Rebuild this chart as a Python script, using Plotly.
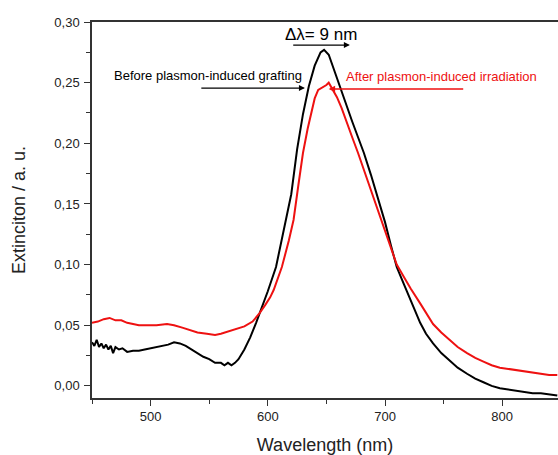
import plotly.graph_objects as go

black_wl = [450, 452, 454, 456, 458, 460, 462, 464, 466, 468, 470, 473, 476, 480, 485, 490, 495, 500,
            505, 510, 515, 520, 525, 530, 535, 540, 545, 550, 555, 560, 563, 566, 569, 572, 575, 580,
            585, 590, 595, 600, 607, 612, 616, 620, 625, 630, 635, 640, 645, 648, 652, 656, 661, 666,
            672, 677, 682, 688, 695, 700, 705, 710, 716, 722, 726, 730, 735, 741, 748, 755, 762, 770,
            777, 784, 791, 798, 805, 812, 819, 826, 833, 840, 847]
black_ext = [0.036, 0.033, 0.038, 0.032, 0.035, 0.031, 0.034, 0.030, 0.033, 0.027, 0.032, 0.030, 0.031,
             0.028, 0.029, 0.029, 0.030, 0.031, 0.032, 0.033, 0.034, 0.036, 0.035, 0.033, 0.030, 0.027,
             0.024, 0.022, 0.019, 0.019, 0.017, 0.019, 0.017, 0.019, 0.022, 0.030, 0.040, 0.052, 0.065,
             0.078, 0.098, 0.120, 0.138, 0.158, 0.195, 0.224, 0.247, 0.264, 0.275, 0.277, 0.273, 0.262,
             0.247, 0.233, 0.218, 0.205, 0.192, 0.174, 0.152, 0.135, 0.116, 0.098, 0.084, 0.070, 0.062,
             0.052, 0.043, 0.035, 0.027, 0.021, 0.015, 0.010, 0.006, 0.003, 0.000, -0.002, -0.003,
             -0.004, -0.005, -0.006, -0.006, -0.007, -0.008]

red_wl = [450, 455, 460, 465, 470, 475, 480, 485, 490, 497, 505, 514, 520, 527, 534, 540, 548, 555, 560,
          567, 573, 580, 587, 593, 598, 602, 605, 612, 618, 622, 626, 630, 634, 637, 640, 643, 647, 650,
          652, 655, 659, 663, 667, 672, 677, 685, 691, 697, 703, 710, 716, 722, 730, 741, 748, 755, 762,
          770, 777, 784, 791, 798, 805, 812, 819, 826, 833, 840, 847]
red_ext = [0.052, 0.053, 0.055, 0.056, 0.054, 0.054, 0.052, 0.051, 0.050, 0.050, 0.050, 0.051, 0.050,
           0.048, 0.046, 0.044, 0.043, 0.042, 0.043, 0.045, 0.047, 0.049, 0.053, 0.060, 0.067, 0.073,
           0.079, 0.098, 0.120, 0.137, 0.165, 0.192, 0.212, 0.225, 0.237, 0.244, 0.246, 0.248, 0.250,
           0.245, 0.238, 0.229, 0.219, 0.205, 0.192, 0.170, 0.153, 0.137, 0.119, 0.100, 0.090, 0.080,
           0.068, 0.051, 0.044, 0.038, 0.032, 0.027, 0.023, 0.020, 0.017, 0.015, 0.014, 0.013, 0.012,
           0.011, 0.010, 0.009, 0.009]

y_ticks = [0.00, 0.05, 0.10, 0.15, 0.20, 0.25, 0.30]
y_ticklabels = ["0,00", "0,05", "0,10", "0,15", "0,20", "0,25", "0,30"]
x_ticks = [500, 600, 700, 800]

FONT = "Liberation Sans, Arial, sans-serif"

fig = go.Figure()
fig.add_trace(go.Scatter(x=black_wl, y=black_ext, mode="lines",
                         line=dict(color="black", width=2), name="Before"))
fig.add_trace(go.Scatter(x=red_wl, y=red_ext, mode="lines",
                         line=dict(color="#ee1111", width=2), name="After"))

# annotations
fig.add_annotation(x=548.6, y=0.256, text="Before plasmon-induced grafting", showarrow=False,
                   font=dict(family=FONT, size=13, color="black"))
fig.add_annotation(x=631.7, y=0.2455, ax=542, ay=0.2455, axref="x", ayref="y", xref="x", yref="y",
                   text="", showarrow=True, arrowhead=2, arrowsize=1, arrowwidth=1.2, arrowcolor="black")
fig.add_annotation(x=748.6, y=0.2549, text="After plasmon-induced irradiation", showarrow=False,
                   font=dict(family=FONT, size=13, color="#ee1111"))
fig.add_annotation(x=652, y=0.2447, ax=768, ay=0.2447, axref="x", ayref="y", xref="x", yref="y",
                   text="", showarrow=True, arrowhead=2, arrowsize=0.8, arrowwidth=1.6, arrowcolor="#ee1111")
fig.add_annotation(x=645, y=0.2895, text="Δλ= 9 nm", showarrow=False,
                   font=dict(family=FONT, size=17, color="black"))
fig.add_annotation(x=670, y=0.281, ax=620.4, ay=0.281, axref="x", ayref="y", xref="x", yref="y",
                   text="", showarrow=True, arrowhead=2, arrowsize=1, arrowwidth=1.2, arrowcolor="black")

fig.update_layout(
    width=558, height=455,
    margin=dict(l=92, r=0, t=22, b=57),
    paper_bgcolor="white", plot_bgcolor="white",
    showlegend=False,
    font=dict(family=FONT, color="#222"),
    xaxis=dict(range=[450, 847.6], tickvals=x_ticks, ticks="outside", ticklen=6, tickwidth=1.2,
               tickcolor="#333", showline=True, linecolor="#333", linewidth=1.5, mirror=True,
               showgrid=False, zeroline=False, tickfont=dict(size=13, family=FONT, color="#222"),
               minor=dict(dtick=50, tick0=450, ticks="outside", ticklen=4, tickcolor="#333", tickwidth=1),
               title=dict(text="Wavelength (nm)", font=dict(size=18, family=FONT, color="#222"), standoff=16)),
    yaxis=dict(range=[-0.01, 0.30], tickvals=y_ticks, ticktext=y_ticklabels, ticks="outside", ticklen=6,
               tickwidth=1.2, tickcolor="#333", showline=True, linecolor="#333", linewidth=1.5, mirror=False,
               showgrid=False, zeroline=False, tickfont=dict(size=13, family=FONT, color="#222"),
               ticklabelstandoff=2,
               minor=dict(dtick=0.025, tick0=0, ticks="outside", ticklen=4, tickcolor="#333", tickwidth=1),
               title=dict(text="Extinciton / a. u.", font=dict(size=18, family=FONT, color="#222"), standoff=24)),
)

fig.write_html("out.html", config={"displayModeBar": False},
               post_script="document.body.style.margin='0';document.body.style.overflow='hidden';")
